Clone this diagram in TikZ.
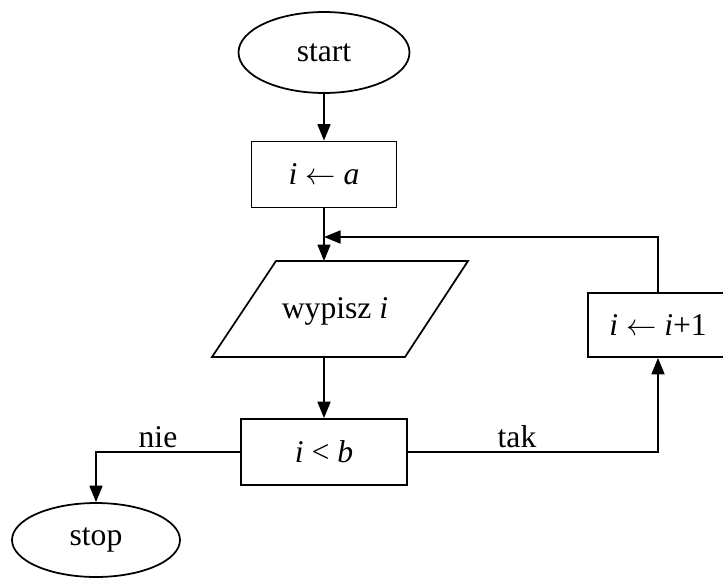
\documentclass[tikz,border=0pt]{standalone}
\usepackage{fontspec}
\setmainfont{Liberation Serif}
\usetikzlibrary{arrows.meta,shapes.geometric}

\begin{document}
\begin{tikzpicture}[x=0.02cm,y=-0.02cm,line width=1pt,
    >={Triangle[width=2.6mm,length=3.3mm]},
    every node/.style={font=\fontsize{18}{21}\selectfont},
    term/.style={draw,ellipse,inner sep=0pt},
    proc/.style={draw,rectangle,inner sep=0pt,minimum height=1.32cm}]
    \useasboundingbox (0,0) rectangle (723,578);
    % draw the blocks
    \node[term,minimum width=3.42cm,minimum height=1.62cm] (start) at (324,52.5) {start};
    \node[proc,minimum width=2.9cm] (init) at (324,174.5) {\textit{i} $\leftarrow$ \textit{a}};
    \draw (276,261) -- (468,261) -- (405,357) -- (212,357) -- cycle;
    \node (print) at (335,311) {wypisz \textit{i}};
    \coordinate (printin) at (324,261);
    \coordinate (printout) at (324,357);
    \coordinate (join) at (324,237);
    \node[proc,minimum width=3.32cm] (cond) at (324,452) {\textit{i} < \textit{b}};
    \node[proc,minimum width=2.8cm,minimum height=1.28cm] (inc) at (658,325) {\textit{i} $\leftarrow$ \textit{i}+1};
    \node[term,minimum width=3.36cm,minimum height=1.48cm] (stop) at (96,540) {stop};
    \node (no) at (158,437) {nie};
    \node (yes) at (517,437) {tak};
    % draw the arrows
    \draw[->] (start) -- (init);
    \draw[->] (init) -- (printin);
    \draw[->] (inc) |- (join);
    \draw[->] (printout) -- (cond);
    \draw[->] (cond) -| (inc);
    \draw[->] (cond) -| (stop);
\end{tikzpicture}
\end{document}
